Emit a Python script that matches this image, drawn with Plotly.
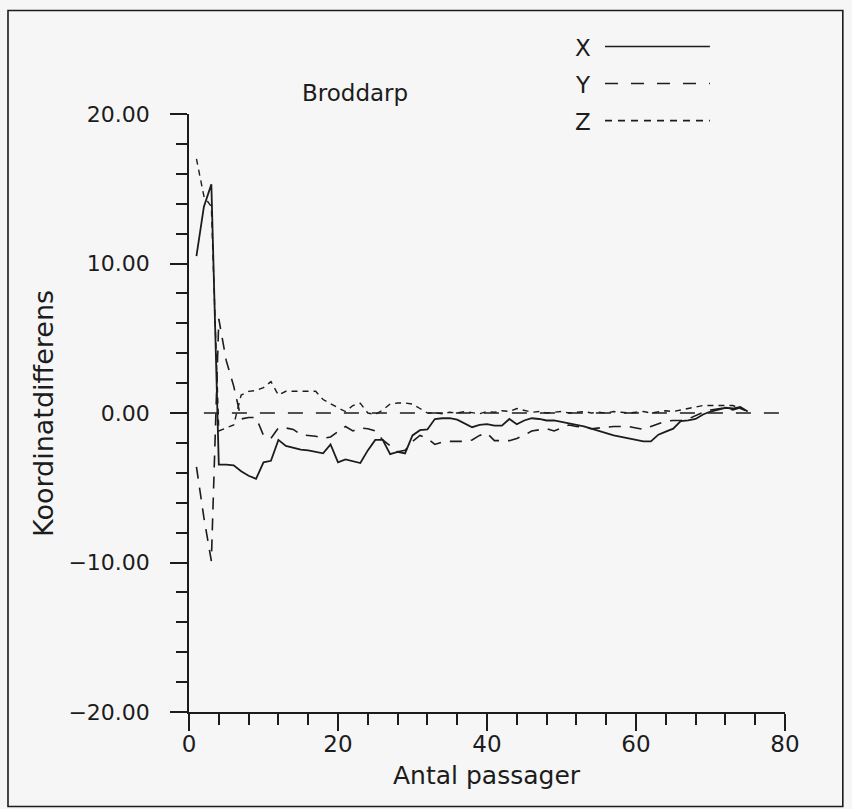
import plotly.graph_objects as go

# Number of passages (x) and coordinate differences per axis
passager = list(range(1, 76))

diff_x = [10.5, 13.8, 15.3, -3.45, -3.45, -3.5, -3.9, -4.2, -4.4, -3.3,
          -3.2, -1.8, -2.2, -2.35, -2.45, -2.5, -2.6, -2.7, -2.1, -3.3,
          -3.1, -3.2, -3.35, -2.5, -1.8, -1.8, -2.75, -2.6, -2.7, -1.5,
          -1.15, -1.1, -0.4, -0.35, -0.35, -0.45, -0.7, -0.95, -0.8, -0.75,
          -0.85, -0.85, -0.4, -0.75, -0.5, -0.35, -0.4, -0.5, -0.5, -0.6,
          -0.75, -0.85, -0.9, -1.05, -1.2, -1.4, -1.5, -1.6, -1.7, -1.85,
          -1.9, -1.9, -1.45, -1.25, -1.05, -0.55, -0.5, -0.4, -0.1, 0.1,
          0.25, 0.35, 0.3, 0.4, 0.1]

diff_y = [-3.6, -7.0, -9.9, 6.3, 3.5, 1.8, -0.4, -0.3, -0.3, -1.5,
          -1.7, -1.0, -1.0, -1.1, -1.45, -1.5, -1.55, -1.7, -1.6, -1.25,
          -0.9, -1.2, -1.0, -1.05, -1.2, -1.8, -2.2, -2.6, -2.5, -1.9,
          -1.5, -1.7, -2.1, -1.95, -1.9, -1.9, -1.9, -1.8, -1.5, -1.35,
          -1.85, -1.85, -1.85, -1.7, -1.5, -1.2, -1.1, -1.05, -1.2, -1.0,
          -0.8, -0.9, -0.95, -1.05, -1.0, -0.9, -0.9, -0.9, -0.9, -1.0,
          -1.1, -0.9, -0.7, -0.55, -0.5, -0.5, -0.4, -0.15, 0.05, 0.2,
          0.3, 0.35, 0.2, 0.35, 0.1]

diff_z = [17.0, 14.5, 13.8, -1.2, -1.0, -0.8, 1.2, 1.45, 1.5, 1.7,
          2.1, 1.2, 1.45, 1.45, 1.4, 1.45, 1.45, 0.9, 0.6, 0.35,
          0.1, 0.5, 0.65, 0.0, -0.1, 0.2, 0.6, 0.67, 0.67, 0.6,
          0.3, 0.0, 0.0, -0.05, 0.05, 0.0, 0.1, 0.0, -0.05, 0.1,
          0.05, 0.15, 0.1, 0.3, 0.15, 0.05, 0.1, 0.0, 0.05, 0.1,
          0.0, 0.05, 0.1, 0.0, 0.05, 0.0, 0.1, 0.05, 0.0, 0.05,
          0.1, 0.0, 0.1, 0.15, 0.1, 0.2, 0.3, 0.45, 0.5, 0.5,
          0.5, 0.45, 0.5, 0.3, 0.1]

# Dashed reference line at zero
zero_x = [2, 80]
zero_y = [0, 0]

x_ticks = [0, 20, 40, 60, 80]
y_ticks = [-20, -10, 0, 10, 20]

INK = "#1c1c1c"
FONT = "DejaVu Sans"
FS = 22

fig = go.Figure()
fig.add_trace(go.Scatter(x=zero_x, y=zero_y, mode="lines",
                         line=dict(color=INK, width=1.6, dash="15px,13px")))
fig.add_trace(go.Scatter(x=passager, y=diff_x, mode="lines",
                         line=dict(color=INK, width=1.8)))
fig.add_trace(go.Scatter(x=passager, y=diff_y, mode="lines",
                         line=dict(color=INK, width=1.6, dash="12px,9px")))
fig.add_trace(go.Scatter(x=passager, y=diff_z, mode="lines",
                         line=dict(color=INK, width=1.4, dash="6px,5px")))

fig.update_xaxes(range=[0, 80], tickvals=x_ticks, ticks="outside", ticklen=17,
                 tickwidth=1.6, tickcolor=INK, showline=True, linecolor=INK,
                 linewidth=1.6, showgrid=False, zeroline=False,
                 minor=dict(dtick=4, ticks="outside", ticklen=11,
                            tickwidth=1.6, tickcolor=INK, showgrid=False),
                 tickfont=dict(family=FONT, size=23, color=INK),
                 ticklabelstandoff=-6)
fig.update_yaxes(range=[-20, 20], tickvals=y_ticks, tickformat=".2f",
                 ticks="outside", ticklen=17, tickwidth=1.6, tickcolor=INK,
                 showline=True, linecolor=INK, linewidth=1.6, showgrid=False,
                 zeroline=False,
                 minor=dict(dtick=2, ticks="outside", ticklen=11,
                            tickwidth=1.6, tickcolor=INK, showgrid=False),
                 tickfont=dict(family=FONT, size=FS, color=INK),
                 ticklabelstandoff=16)

annotations = [
    dict(text="Broddarp", x=0.2785, y=1.0357, xref="paper", yref="paper",
         xanchor="center", yanchor="middle", showarrow=False,
         font=dict(family=FONT, size=23, color=INK)),
    dict(text="Antal passager", x=0.5, y=-0.106, xref="paper", yref="paper",
         xanchor="center", yanchor="middle", showarrow=False,
         font=dict(family=FONT, size=25, color=INK)),
    dict(text="Koordinatdifferens", x=-0.245, y=0.5, xref="paper",
         yref="paper", xanchor="center", yanchor="middle", textangle=-90,
         showarrow=False, font=dict(family=FONT, size=27, color=INK)),
]

# Legend: letter followed by a line sample
legend_items = [("X", 1.111, "solid"), ("Y", 1.049, "13px,13px"),
                ("Z", 0.987, "7px,6px")]
shapes = []
for label, ly, dash in legend_items:
    annotations.append(dict(text=label, x=0.661, y=ly, xref="paper",
                            yref="paper", xanchor="center", yanchor="middle",
                            showarrow=False,
                            font=dict(family=FONT, size=23, color=INK)))
    shapes.append(dict(type="line", xref="paper", yref="paper",
                       x0=0.698, x1=0.874, y0=ly + 0.002, y1=ly + 0.002,
                       line=dict(color=INK, width=1.6, dash=dash)))

# Outer frame around the whole figure
shapes.append(dict(type="rect", xref="paper", yref="paper",
                   x0=-0.3037, x1=1.097, y0=-0.158, y1=1.173,
                   line=dict(color=INK, width=1.6)))

fig.update_layout(
    width=852, height=809,
    margin=dict(l=189, r=67, t=114, b=97),
    paper_bgcolor="#f6f6f6", plot_bgcolor="#f6f6f6",
    showlegend=False,
    annotations=annotations, shapes=shapes,
)

fig.write_html("out.html")
